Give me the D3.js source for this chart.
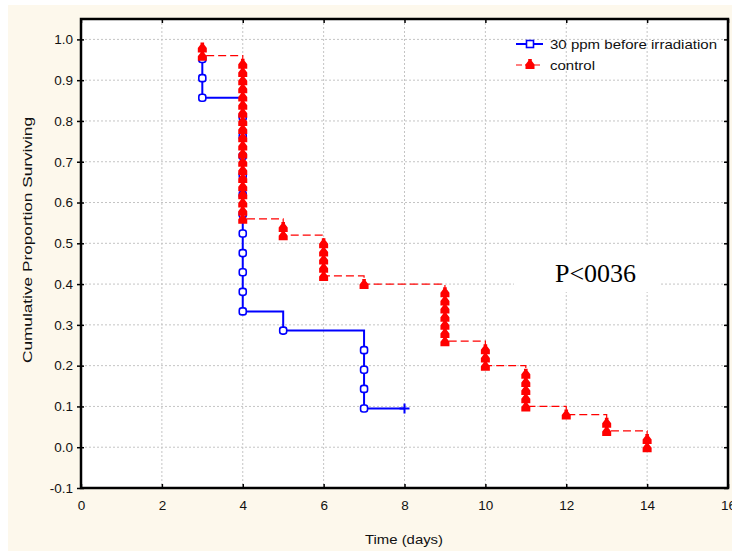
<!DOCTYPE html>
<html><head><meta charset="utf-8">
<script src="https://cdn.jsdelivr.net/npm/d3@7"></script>
<style>body{margin:0;background:#fff;}</style>
</head><body>
<svg id="c" width="732" height="551" font-family="Liberation Sans, Arial, sans-serif"></svg>
<script>
// ---- data ----
const treatedTimes  = [3,3,3,4,4,4,4,4,4,4,4,4,4,4,5,7,7,7,7];
const treatedValues = [0.952,0.905,0.857,0.810,0.762,0.714,0.667,0.619,0.571,0.524,0.476,0.429,0.381,0.333,0.286,0.238,0.190,0.143,0.095];
const treatedCensorTime = [8];
const treatedCensorValue = [0.095];
const controlTimes  = [3,3, 4,4,4,4,4,4,4,4,4,4,4,4,4,4,4,4,4,4,4,4, 5,5, 6,6,6,6,6, 7, 9,9,9,9,9,9,9, 10,10,10, 11,11,11,11,11, 12, 13,13, 14,14];
const controlValues = [0.98,0.96, 0.94,0.92,0.90,0.88,0.86,0.84,0.82,0.80,0.78,0.76,0.74,0.72,0.70,0.68,0.66,0.64,0.62,0.60,0.58,0.56, 0.54,0.52, 0.50,0.48,0.46,0.44,0.42, 0.40, 0.38,0.36,0.34,0.32,0.30,0.28,0.26, 0.24,0.22,0.20, 0.18,0.16,0.14,0.12,0.10, 0.08, 0.06,0.04, 0.02,0.00];
const xTicks = [0,2,4,6,8,10,12,14,16];
const yTicks = [-0.1,0.0,0.1,0.2,0.3,0.4,0.5,0.6,0.7,0.8,0.9,1.0];
const seriesNames = ["30 ppm before irradiation","control"];
const pText = "P<0036";
const xTitle = "Time (days)";
const yTitle = "Cumulative Proportion Surviving";

// ---- layout ----
const svg = d3.select("#c");
const L = 81, R = 728, T = 19, B = 488;
const x = d3.scaleLinear().domain([0,16]).range([L,R]);
const y = d3.scaleLinear().domain([-0.1,1.05]).range([B,T]);

svg.append("rect").attr("x",8).attr("y",5).attr("width",724).attr("height",546).attr("fill","#fdf8ec");
svg.append("rect").attr("x",L).attr("y",T).attr("width",R-L).attr("height",B-T).attr("fill","#fff");

// grid
const g = svg.append("g").attr("stroke","#c4c4c4").attr("stroke-width",1).attr("stroke-dasharray","2,2");
xTicks.filter(v=>v>0&&v<16).forEach(v=>g.append("line").attr("x1",x(v)).attr("x2",x(v)).attr("y1",T).attr("y2",B));
yTicks.filter(v=>v>-0.1).forEach(v=>g.append("line").attr("x1",L).attr("x2",R).attr("y1",y(v)).attr("y2",y(v)));

// white box behind P text
svg.append("rect").attr("x",514).attr("y",247).attr("width",146).attr("height",45).attr("fill","#fff");

// axes
const fmtY = v => (v<0?"-":"") + Math.abs(v).toFixed(1);
const axB = svg.append("g").attr("transform",`translate(0,${B})`).call(d3.axisBottom(x).tickValues(xTicks).tickFormat(d3.format("d")).tickSize(-4).tickPadding(12));
const axL = svg.append("g").attr("transform",`translate(${L},0)`).call(d3.axisLeft(y).tickValues(yTicks).tickFormat(fmtY).tickSize(4).tickPadding(4));
const axT = svg.append("g").attr("transform",`translate(0,${T})`).call(d3.axisTop(x).tickValues(xTicks).tickFormat("").tickSize(-4));
const axR = svg.append("g").attr("transform",`translate(${R},0)`).call(d3.axisRight(y).tickValues(yTicks).tickFormat("").tickSize(-4));
[axB,axL,axT,axR].forEach(a=>{a.select(".domain").remove();a.attr("font-family","Liberation Sans, Arial, sans-serif").attr("font-size",13.5);
  a.selectAll("line").attr("stroke","#000").attr("stroke-width",1.5);a.selectAll("text").attr("fill","#111");});
axL.selectAll(".tick line").attr("x1",-4).attr("x2",3);

svg.append("rect").attr("x",L).attr("y",T).attr("width",R-L).attr("height",B-T).attr("fill","none").attr("stroke","#000").attr("stroke-width",2.5);

// titles
svg.append("text").attr("x",404).attr("y",544).attr("text-anchor","middle").attr("font-size",13).attr("fill","#111")
  .attr("textLength",78).attr("lengthAdjust","spacingAndGlyphs").text(xTitle);
svg.append("text").attr("transform","translate(32,240) rotate(-90)").attr("text-anchor","middle").attr("font-size",13).attr("fill","#111")
  .attr("textLength",246).attr("lengthAdjust","spacingAndGlyphs").text(yTitle);

// series
const treated = treatedTimes.map((t,i)=>({t, v:treatedValues[i]}));
const control = controlTimes.map((t,i)=>({t, v:controlValues[i]}));
const line = d3.line().x(d=>x(d.t)).y(d=>y(d.v)).curve(d3.curveStepAfter);

const tPath = treated.concat(treatedCensorTime.map((t,i)=>({t,v:treatedCensorValue[i]})));
svg.append("path").attr("d",line(tPath)).attr("fill","none").attr("stroke","#0000ff").attr("stroke-width",2);
svg.append("path").attr("d",line(control)).attr("fill","none").attr("stroke","#ff0000").attr("stroke-width",1.2).attr("stroke-dasharray","8,4");

const sq = (sel)=>sel.append("rect").attr("x",-3.5).attr("y",-3.5).attr("width",7).attr("height",7).attr("rx",2.5)
  .attr("fill","#fff").attr("stroke","#0000ff").attr("stroke-width",1.6);
svg.append("g").selectAll("g").data(treated).join("g").attr("transform",d=>`translate(${x(d.t)},${y(d.v)})`).each(function(){sq(d3.select(this));});
// censored mark
svg.append("g").selectAll("path").data(treatedCensorTime.map((t,i)=>({t,v:treatedCensorValue[i]}))).join("path")
  .attr("d",d=>`M${x(d.t)-5},${y(d.v)}H${x(d.t)+5}M${x(d.t)},${y(d.v)-5}V${y(d.v)+5}`).attr("stroke","#0000ff").attr("stroke-width",2);

const house = "M-1.8,-5H1.8V-3L4.5,0.5V5H-4.5V0.5L-1.8,-3Z";
svg.append("g").selectAll("path").data(control).join("path").attr("d",house)
  .attr("transform",d=>`translate(${x(d.t)},${y(d.v)})`).attr("fill","#ff0000");

// legend
const lg = svg.append("g");
lg.append("line").attr("x1",516).attr("x2",543).attr("y1",44).attr("y2",44).attr("stroke","#0000ff").attr("stroke-width",2);
sq(lg.append("g").attr("transform","translate(530,44)")).attr("rx",0);
lg.append("text").attr("x",550).attr("y",48.5).attr("font-size",13.5).attr("fill","#111")
  .attr("textLength",167).attr("lengthAdjust","spacingAndGlyphs").text(seriesNames[0]);
lg.append("line").attr("x1",516).attr("x2",543).attr("y1",65).attr("y2",65).attr("stroke","#ff0000").attr("stroke-width",1.2).attr("stroke-dasharray","6,3");
lg.append("path").attr("d",house).attr("transform","translate(530,64)").attr("fill","#ff0000");
lg.append("text").attr("x",550).attr("y",69.5).attr("font-size",13.5).attr("fill","#111")
  .attr("textLength",45).attr("lengthAdjust","spacingAndGlyphs").text(seriesNames[1]);

// P value
svg.append("text").attr("x",555).attr("y",282).attr("font-family","Liberation Serif, Times New Roman, serif").attr("font-size",26).attr("fill","#000").text(pText);
</script>
</body></html>
